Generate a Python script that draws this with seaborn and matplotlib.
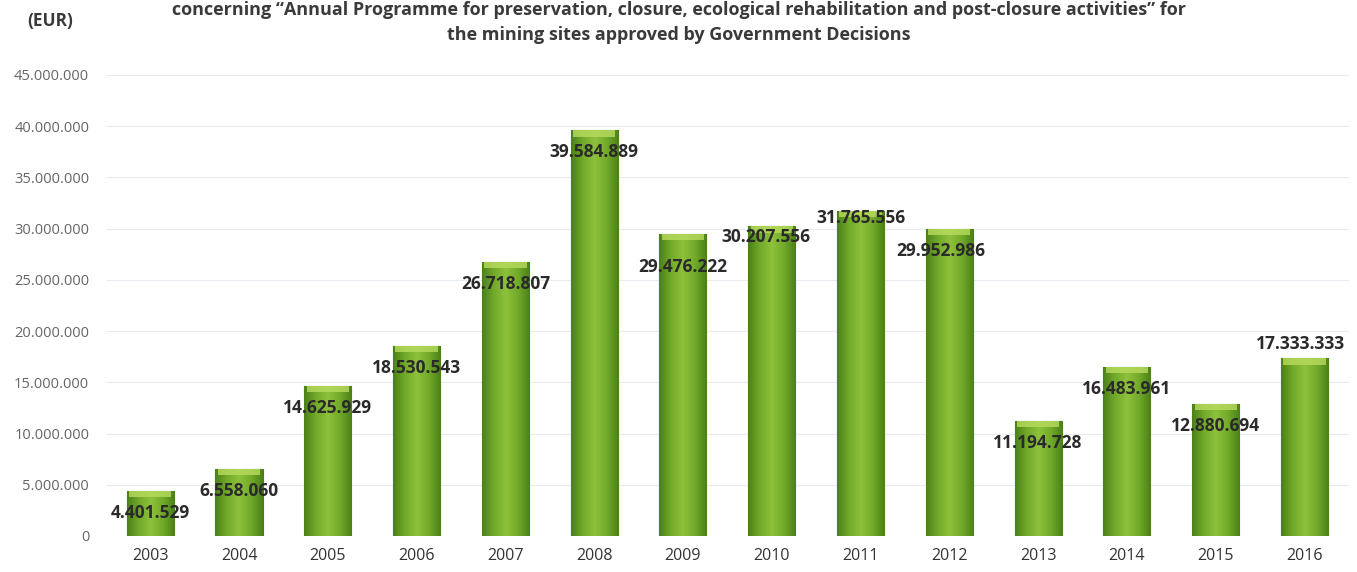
import numpy as np
import pandas as pd
import matplotlib.pyplot as plt
import matplotlib.ticker as mticker
from matplotlib.colors import LinearSegmentedColormap
import seaborn as sns

years = ["2003", "2004", "2005", "2006", "2007", "2008", "2009",
         "2010", "2011", "2012", "2013", "2014", "2015", "2016"]
amounts = [4401529, 6558060, 14625929, 18530543, 26718807, 39584889, 29476222,
           30207556, 31765556, 29952986, 11194728, 16483961, 12880694, 17333333]
label_texts = ["4.401.529", "6.558.060", "14.625.929", "18.530.543", "26.718.807",
               "39.584.889", "29.476.222", "30.207.556", "31.765.556", "29.952.986",
               "11.194.728", "16.483.961", "12.880.694", "17.333.333"]

title_text = ("concerning \u201cAnnual Programme for preservation, closure, ecological rehabilitation and post-closure activities\u201d for\n"
              "the mining sites approved by Government Decisions")

df = pd.DataFrame({"year": years, "amount": amounts})

sns.set_style("white")
plt.rcParams["font.family"] = ["Open Sans", "DejaVu Sans"]

fig = plt.figure(figsize=(13.57, 5.72), dpi=100)
ax = fig.add_axes([0.078, 0.063, 0.916, 0.806])

sns.barplot(data=df, x="year", y="amount", color="#74ab2c", width=0.53,
            edgecolor="#4a7a1c", linewidth=0.8, ax=ax)

# horizontal shading on each bar: darker edges, bright middle
shade = LinearSegmentedColormap.from_list(
    "bar", ["#4a8019", "#72aa2a", "#8ec23c", "#72aa2a", "#4a8019"])
grad = np.linspace(0, 1, 256).reshape(1, -1)
for p in ax.patches:
    x0, y0 = p.get_x(), p.get_y()
    w, h = p.get_width(), p.get_height()
    im = ax.imshow(grad, cmap=shade, aspect="auto", zorder=p.get_zorder() + 0.1,
                   extent=[x0, x0 + w, y0, y0 + h])
    im.set_clip_path(p)
    # light bevel at the top
    top = min(h, 600000)
    ax.fill_between([x0 + w * 0.05, x0 + w * 0.95], y0 + h - top, y0 + h,
                    color="#b9dc5e", alpha=0.8, zorder=p.get_zorder() + 0.2, linewidth=0)

ax.set_xlim(-0.5, len(years) - 0.5)
ax.set_ylim(0, 45000000)
ax.yaxis.set_major_locator(mticker.MultipleLocator(5000000))
ax.yaxis.set_major_formatter(mticker.FuncFormatter(lambda v, _: f"{int(v):,}".replace(",", ".")))
ax.grid(axis="y", color="#e6ecef", linewidth=0.8)
ax.set_axisbelow(True)
for s in ax.spines.values():
    s.set_visible(False)
ax.tick_params(axis="y", labelsize=10.5, colors="#666666", length=0, pad=12)
ax.tick_params(axis="x", labelsize=11.5, colors="#333333", length=0, pad=9)
ax.set_xlabel("")
ax.set_ylabel("")

# value labels, most sit just below the bar top
default_drop = 2150000
drops = {6: 3250000, 7: 1000000, 8: 700000, 13: -1400000}
x_shift = {7: -0.07, 9: -0.1, 13: -0.05}
for i, (v, t) in enumerate(zip(amounts, label_texts)):
    ax.text(i + x_shift.get(i, 0), v - drops.get(i, default_drop), t,
            ha="center", va="center", fontsize=12.5, fontweight="bold",
            color="#2a2a2a", zorder=5)

fig.text(0.5, 0.96, title_text, ha="center", va="center", fontsize=13,
         fontweight="bold", color="#3a3a3a", linespacing=1.5)
fig.text(0.037, 0.963, "(EUR)", ha="center", va="center", fontsize=12.5,
         fontweight="bold", color="#3a3a3a")

fig.savefig("out.png", dpi=100)
